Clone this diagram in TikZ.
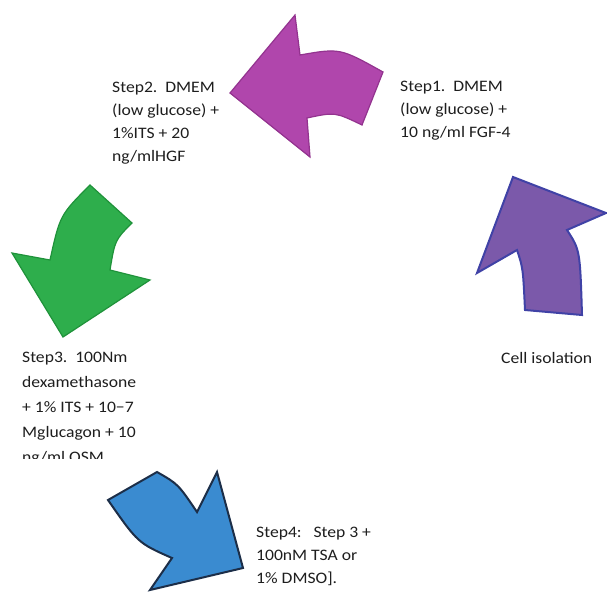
\documentclass[tikz,border=0pt]{standalone}
\usepackage{fontspec}
\setmainfont{Carlito}[FakeStretch=1.1]
\usepackage{tikz}
\usetikzlibrary{positioning}

\definecolor{cellfill}{HTML}{7B59AA}
\definecolor{celledge}{HTML}{4042A6}
\definecolor{stwofill}{HTML}{B046AC}
\definecolor{stwoedge}{HTML}{93338F}
\definecolor{sthreefill}{HTML}{2EAE4C}
\definecolor{sthreeedge}{HTML}{1F923A}
\definecolor{sfourfill}{HTML}{3A8BD0}
\definecolor{sfouredge}{HTML}{1C2E48}
\definecolor{notetext}{HTML}{1E1E1E}

\begin{document}
\begin{tikzpicture}[x=1pt,y=-1pt,
    stepnote/.style={anchor=base west,align=left,inner sep=0pt,text=notetext,
        font=\fontsize{16}{23}\selectfont},
    bigarrow/.style={line join=miter,line width=2pt}]
        \useasboundingbox[fill=white] (0,0) rectangle (607,592);
        % arrows, going round anticlockwise
        \filldraw[bigarrow,fill=cellfill,draw=celledge] (513,177) -- (606,213) -- (567,230)
            .. controls (580,250) .. (582,315) -- (525,310) .. controls (523,268) .. (517,250)
            -- (477,273) -- cycle;
        \filldraw[bigarrow,line width=1.2pt,fill=stwofill,draw=stwoedge] (230,93) -- (295,15) -- (300,55)
            .. controls (340,48) .. (383,72) -- (362,125) .. controls (335,112) .. (307,118)
            -- (310,157) -- cycle;
        \filldraw[bigarrow,line width=1.2pt,fill=sthreefill,draw=sthreeedge] (90,185) -- (132,223)
            .. controls (115,240) .. (110,270) -- (150,280) -- (63,337) -- (12,253) -- (50,260)
            .. controls (60,215) .. (90,185) -- cycle;
        \filldraw[bigarrow,fill=sfourfill,draw=sfouredge] (108,500) -- (157,472)
            .. controls (178,484) .. (197,512) -- (217,472) -- (243,568) -- (150,590) -- (172,558)
            .. controls (138,543) .. (108,500) -- cycle;
        % labels (base = baseline of the last line)
        \node[stepnote] (cell) at (501,363) {Cell isolation};
        \node[stepnote] (step1) at (400,137) {Step1.\ \ DMEM\\(low glucose) +\\10 ng/ml FGF-4};
        \node[stepnote] (step2) at (112,161) {Step2.\ \ DMEM\\(low glucose) +\\1\%ITS + 20\\ng/mlHGF};
        \begin{scope}
            \clip (0,330) rectangle (200,458);
            \node[stepnote,font=\fontsize{16}{25}\selectfont] (step3) at (22,462)
                {Step3.\ \ 100Nm\\dexamethasone\\+ 1\% ITS + 10−7\\Mglucagon + 10\\ng/ml OSM};
        \end{scope}
        \node[stepnote] (step4) at (256,583)
            {Step4:\ \ \ Step 3 +\\100nM TSA or\\1\% DMSO].};
    \end{tikzpicture}
\end{document}
